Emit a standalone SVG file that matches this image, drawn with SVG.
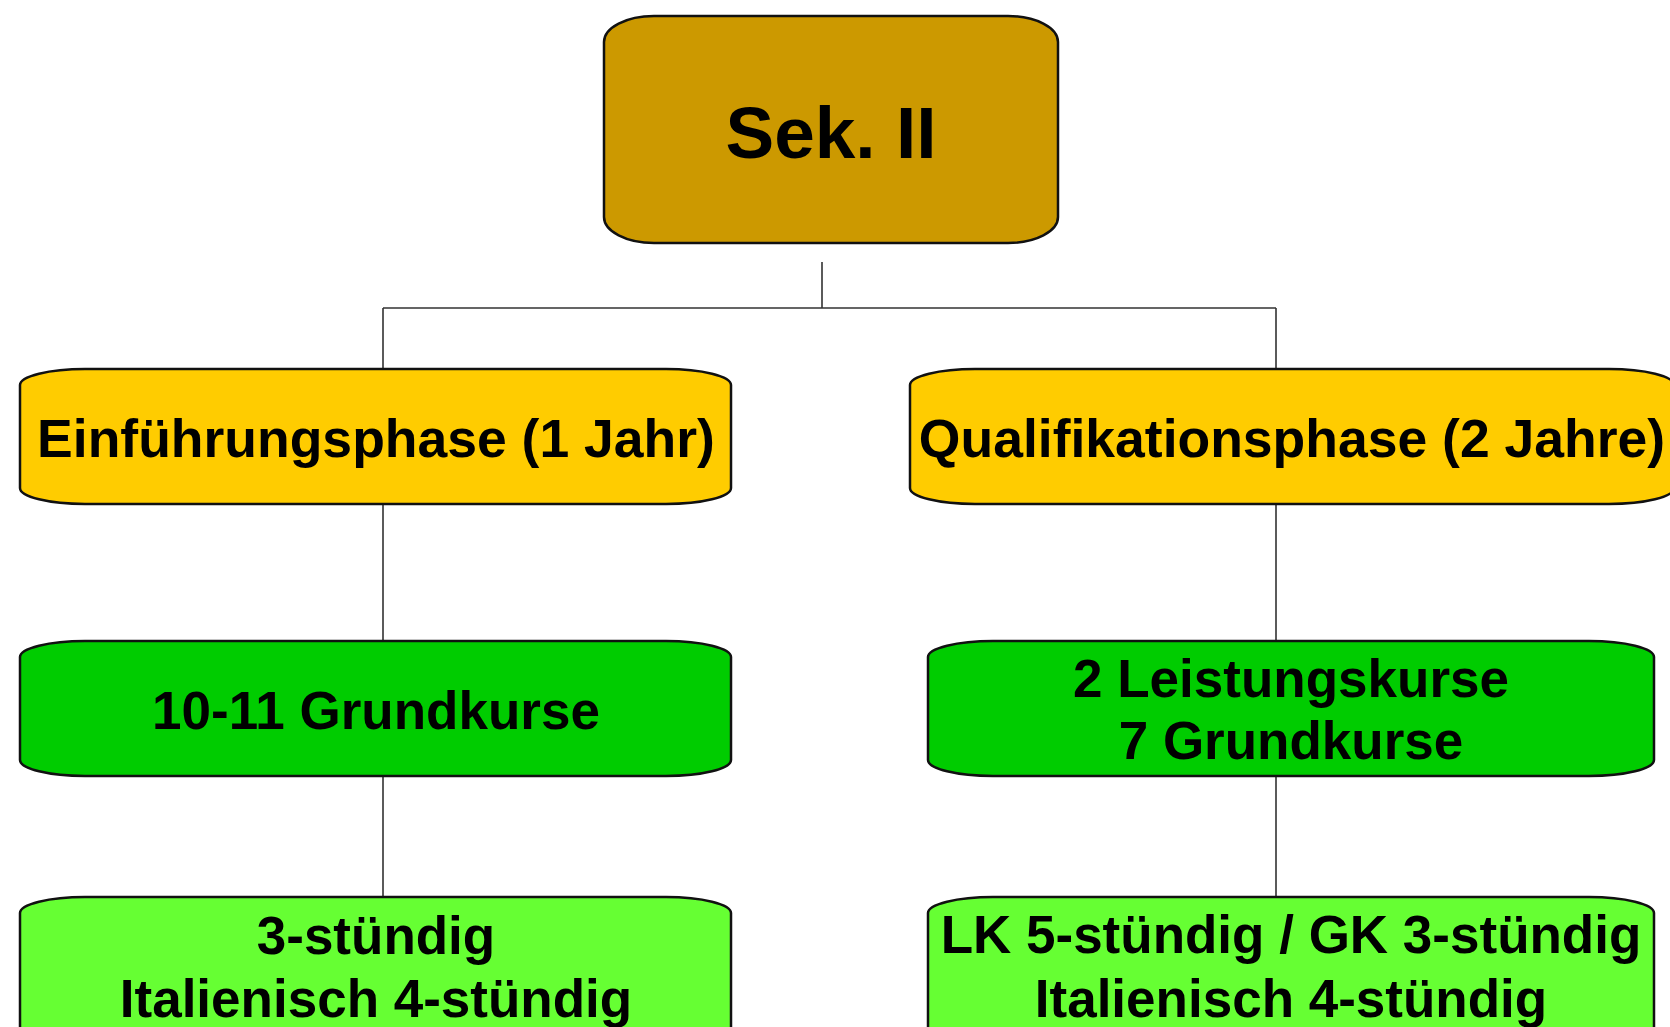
<svg xmlns="http://www.w3.org/2000/svg" width="1670" height="1027" viewBox="0 0 1670 1027">
<style>
.box{stroke:#111;stroke-width:2.5}
.t{font-family:"Liberation Sans",Arial,sans-serif;font-weight:bold;fill:#000;text-anchor:middle}
.c{stroke:#333;stroke-width:1.6;fill:none}
</style>
<rect width="1670" height="1027" fill="#fff"/>
<g id="connectors">
<path class="c" d="M822 262 V308 M383 308 H1276 M383 308 V369 M1276 308 V369"/>
<path class="c" d="M383 504 V641 M1276 504 V641"/>
<path class="c" d="M383 776 V897 M1276 776 V897"/>
</g>
<g id="sek2">
<rect class="box" x="604" y="16" width="454" height="227" rx="50" ry="26" fill="#CC9900"/>
<text class="t" x="831" y="158" font-size="73">Sek. II</text>
</g>
<g id="einfuehrungsphase">
<rect class="box" x="20" y="369" width="711" height="135" rx="65" ry="16" fill="#FFCC00"/>
<text class="t" x="376" y="457" font-size="53.5">Einführungsphase (1 Jahr)</text>
</g>
<g id="qualifikationsphase">
<rect class="box" x="910" y="369" width="764" height="135" rx="65" ry="16" fill="#FFCC00"/>
<text class="t" x="1292" y="457" font-size="53.5">Qualifikationsphase (2 Jahre)</text>
</g>
<g id="grundkurse-ef">
<rect class="box" x="20" y="641" width="711" height="135" rx="65" ry="16" fill="#00CC00"/>
<text class="t" x="376" y="729" font-size="53">10-11 Grundkurse</text>
</g>
<g id="kurse-q">
<rect class="box" x="928" y="641" width="726" height="135" rx="65" ry="16" fill="#00CC00"/>
<text class="t" x="1291" y="697" font-size="53">2 Leistungskurse</text>
<text class="t" x="1291" y="759" font-size="53">7 Grundkurse</text>
</g>
<g id="stunden-ef">
<rect class="box" x="20" y="897" width="711" height="150" rx="65" ry="16" fill="#66FF33"/>
<text class="t" x="376" y="954" font-size="53">3-stündig</text>
<text class="t" x="376" y="1017" font-size="53">Italienisch 4-stündig</text>
</g>
<g id="stunden-q">
<rect class="box" x="928" y="897" width="726" height="150" rx="65" ry="16" fill="#66FF33"/>
<text class="t" x="1291" y="953" font-size="53">LK 5-stündig / GK 3-stündig</text>
<text class="t" x="1291" y="1017" font-size="53">Italienisch 4-stündig</text>
</g>
</svg>
